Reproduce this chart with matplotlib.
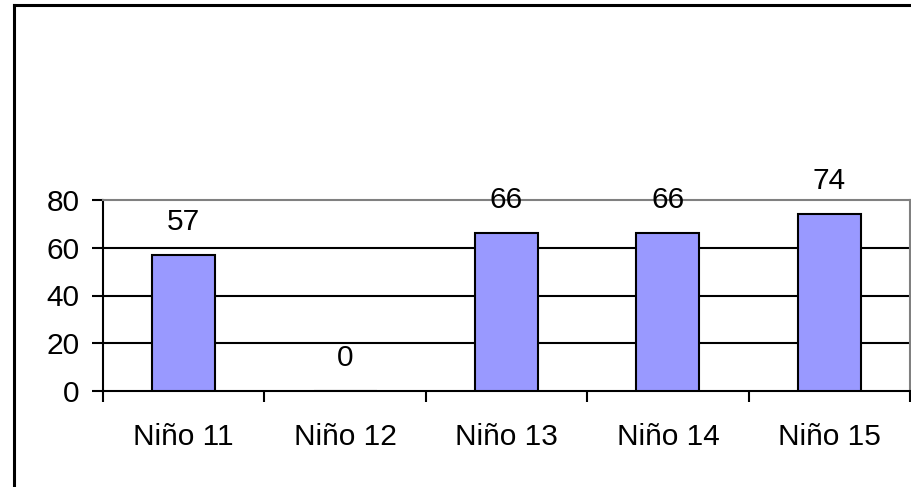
import matplotlib
matplotlib.use("Agg")
import matplotlib.pyplot as plt
from matplotlib.lines import Line2D

categories = ["Niño 11", "Niño 12", "Niño 13", "Niño 14", "Niño 15"]
values = [57, 0, 66, 66, 74]
yticks = [0, 20, 40, 60, 80]

plt.rcParams['font.family'] = ['Liberation Sans', 'DejaVu Sans']

W, H = 912, 487
FS = 21.5
fig = plt.figure(figsize=(W / 100, H / 100), dpi=100)
fig.patch.set_facecolor("white")

# outer chart border (only left & top visible)
fig.add_artist(Line2D([14 / W, 14 / W], [1 - 5 / H, -0.1], transform=fig.transFigure,
                      color="black", lw=2.2))
fig.add_artist(Line2D([14 / W, 1.1], [1 - 5 / H, 1 - 5 / H], transform=fig.transFigure,
                      color="black", lw=2.2))

ax = fig.add_axes([103 / W, 1 - 391 / H, (910 - 103) / W, (391 - 200) / H])
n = len(categories)
xs = [i + 0.5 for i in range(n)]
ax.bar(xs, values, width=0.39, color="#9999FF", edgecolor="black", linewidth=1.5, zorder=3)
ax.set_xlim(0, n)
ax.set_ylim(0, 80)

for y in yticks[1:-1]:
    ax.axhline(y, color="black", lw=1.5, zorder=1)

for x, v in zip(xs, values):
    ax.annotate(str(v), (x, v), xytext=(0, 24), textcoords="offset points",
                ha="center", va="center", fontsize=FS, color="black")

ax.set_yticks(yticks)
ax.set_yticklabels([str(t) for t in yticks], fontsize=FS)
ax.set_xticks(range(n + 1))
ax.set_xticklabels([""] * (n + 1))
ax.set_xticks(xs, minor=True)
ax.set_xticklabels(categories, minor=True, fontsize=FS)
ax.tick_params(axis="x", which="major", direction="out", length=8, width=1.5, color="black")
ax.tick_params(axis="x", which="minor", length=0, pad=23)
ax.tick_params(axis="y", direction="out", length=8, width=1.5, pad=9)

for s in ["left", "bottom"]:
    ax.spines[s].set_color("black")
    ax.spines[s].set_linewidth(1.5)
for s in ["top", "right"]:
    ax.spines[s].set_color("#808080")
    ax.spines[s].set_linewidth(1.5)

fig.savefig("out.png", dpi=100)
